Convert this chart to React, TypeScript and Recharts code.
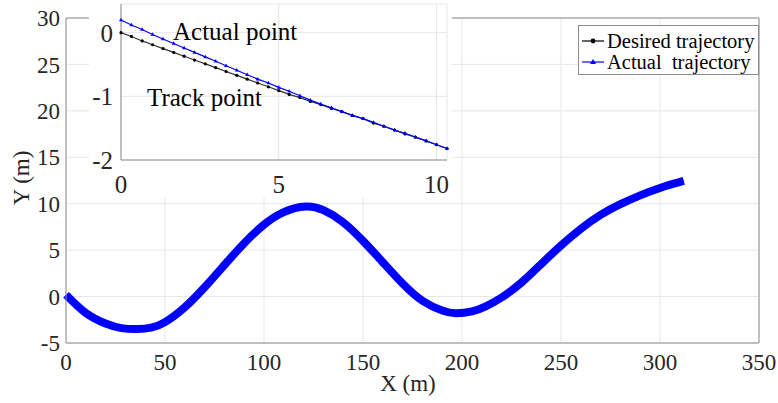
import { ComposedChart, Line, XAxis, YAxis, CartesianGrid, ReferenceLine } from 'recharts'

const FONT = 'Liberation Serif'
const AXIS = '#8c8c8c'
const GRID = '#e6e6e6'
const TEXT = '#262626'
const BLUE = '#0000ff'

// full path, X (m) vs Y (m)
const pathX = [
  0, 10, 20, 28, 36, 43, 50, 60, 70, 80, 90, 100, 110, 121, 130, 140, 150, 160, 170, 180, 190, 197,
  205, 212, 220, 230, 240, 250, 260, 270, 280, 290, 300, 312,
]
const pathDesired = [
  0, -1.76, -2.9, -3.4, -3.5, -3.35, -2.75, -1.15, 1.0, 3.4, 5.75, 7.75, 9.1, 9.7, 9.3, 8.0, 6.0,
  3.7, 1.4, -0.45, -1.5, -1.8, -1.6, -1.05, -0.1, 1.5, 3.5, 5.5, 7.3, 8.8, 9.95, 10.9, 11.7, 12.45,
]
const pathActual = [
  0.2, -1.76, -2.9, -3.4, -3.5, -3.35, -2.75, -1.15, 1.0, 3.4, 5.75, 7.75, 9.1, 9.7, 9.3, 8.0, 6.0,
  3.7, 1.4, -0.45, -1.5, -1.8, -1.6, -1.05, -0.1, 1.5, 3.5, 5.5, 7.3, 8.8, 9.95, 10.9, 11.7, 12.45,
]

// zoomed start section
const zoomX = [
  0, 0.33, 0.67, 1, 1.33, 1.67, 2, 2.33, 2.67, 3, 3.33, 3.67, 4, 4.33, 4.67, 5, 5.33, 5.67, 6, 6.33,
  6.67, 7, 7.33, 7.67, 8, 8.33, 8.67, 9, 9.33, 9.67, 10, 10.33,
]
const zoomDesired = [
  0, -0.06, -0.13, -0.19, -0.25, -0.31, -0.37, -0.43, -0.49, -0.55, -0.61, -0.67, -0.73, -0.79,
  -0.85, -0.91, -0.97, -1.02, -1.08, -1.13, -1.19, -1.24, -1.3, -1.35, -1.42, -1.47, -1.53, -1.59,
  -1.64, -1.7, -1.76, -1.82,
]
const zoomActual = [
  0.2, 0.12, 0.05, -0.03, -0.1, -0.17, -0.24, -0.31, -0.38, -0.45, -0.52, -0.59, -0.66, -0.73,
  -0.79, -0.86, -0.92, -0.99, -1.06, -1.12, -1.18, -1.24, -1.3, -1.35, -1.41, -1.47, -1.53, -1.58,
  -1.64, -1.7, -1.76, -1.82,
]

const pathXTicks = [0, 50, 100, 150, 200, 250, 300, 350]
const pathYTicks = [-5, 0, 5, 10, 15, 20, 25, 30]
const zoomXTicks = [0, 5, 10]
const zoomYTicks = [-2, -1, 0]

const pathData = pathX.map((x, i) => ({ x, desired: pathDesired[i], actual: pathActual[i] }))
const zoomData = zoomX.map((x, i) => ({ x, desired: zoomDesired[i], actual: zoomActual[i] }))

const CircleDot = ({ cx, cy }: any) => <circle cx={cx} cy={cy} r={1.6} fill="#000" />

const TriDot = ({ cx, cy }: any) => (
  <path d={`M${cx},${cy - 2.2}L${cx + 2},${cy + 1.3}L${cx - 2},${cy + 1.3}Z`} fill={BLUE} />
)

const legendItems = [
  { name: 'Desired trajectory', color: '#000', top: 4 },
  { name: 'Actual  trajectory', color: BLUE, top: 25 },
]

const LegendBox = () => (
  <div
    style={{
      position: 'absolute',
      left: 578,
      top: 25,
      width: 181,
      height: 50,
      boxSizing: 'border-box',
      border: `1px solid ${AXIS}`,
      background: '#fff',
      fontFamily: FONT,
      fontSize: 20.5,
      color: '#000',
    }}
  >
    {legendItems.map((it, i) => (
      <div
        key={it.name}
        style={{ position: 'absolute', left: 2, top: it.top, height: 22, display: 'flex', alignItems: 'center' }}
      >
        <svg width={24} height={22}>
          <line x1={1} y1={11} x2={23} y2={11} stroke={it.color} strokeWidth={1.2} />
          {i === 0 ? (
            <circle cx={12} cy={11} r={2.4} fill="#000" />
          ) : (
            <path d="M12,8 L15,13 L9,13 Z" fill={BLUE} />
          )}
        </svg>
        <span style={{ whiteSpace: 'pre', marginLeft: 2, lineHeight: '22px' }}>{it.name}</span>
      </div>
    ))}
  </div>
)

export default function App() {
  return (
    <div style={{ position: 'absolute', left: 0, top: 0, width: 778, height: 403, background: '#fff' }}>
      <ComposedChart
        width={778}
        height={403}
        data={pathData}
        margin={{ top: 18, right: 19, left: 0, bottom: 0 }}
      >
        <CartesianGrid stroke={GRID} />
        <XAxis
          type="number"
          dataKey="x"
          domain={[0, 350]}
          ticks={pathXTicks}
          height={60}
          stroke={AXIS}
          tickLine={false}
          tickSize={0}
          tickMargin={11}
          tick={{ fontSize: 23, fill: TEXT, fontFamily: FONT }}
        />
        <YAxis
          type="number"
          domain={[-5, 30]}
          ticks={pathYTicks}
          width={66}
          stroke={AXIS}
          tickLine={false}
          tickSize={0}
          tickMargin={6}
          tick={{ fontSize: 23, fill: TEXT, fontFamily: FONT }}
        />
        <ReferenceLine y={30} stroke={AXIS} />
        <ReferenceLine x={350} stroke={AXIS} />
        <Line
          type="natural"
          dataKey="desired"
          stroke="#000"
          strokeWidth={1}
          dot={false}
          isAnimationActive={false}
        />
        <Line
          type="natural"
          dataKey="actual"
          stroke={BLUE}
          strokeWidth={8}
          dot={false}
          isAnimationActive={false}
        />
      </ComposedChart>

      <LegendBox />

      {/* zoomed view of the start section */}
      <div style={{ position: 'absolute', left: 89, top: 0, width: 363, height: 198, background: '#fff' }}>
        <ComposedChart
          width={363}
          height={198}
          data={zoomData}
          margin={{ top: 4, right: 5, left: 0, bottom: 0 }}
        >
          <CartesianGrid stroke={GRID} />
          <XAxis
            type="number"
            dataKey="x"
            domain={[0, 10.33]}
            ticks={zoomXTicks}
            height={38}
            stroke={AXIS}
            tickLine={false}
            tickSize={0}
            tickMargin={15}
            tick={{ fontSize: 25, fill: TEXT, fontFamily: FONT }}
          />
          <YAxis
            type="number"
            domain={[-2, 0.45]}
            ticks={zoomYTicks}
            width={32}
            stroke={AXIS}
            tickLine={false}
            tickSize={0}
            tickMargin={8}
            tick={{ fontSize: 25, fill: TEXT, fontFamily: FONT }}
          />
          <Line
            type="linear"
            dataKey="desired"
            stroke="#333"
            strokeWidth={1.2}
            dot={<CircleDot />}
            isAnimationActive={false}
          />
          <Line
            type="linear"
            dataKey="actual"
            stroke={BLUE}
            strokeWidth={1.2}
            dot={<TriDot />}
            isAnimationActive={false}
          />
        </ComposedChart>
        <div style={{ position: 'absolute', left: 84, top: 19, fontFamily: FONT, fontSize: 25, lineHeight: '25px', color: '#000', whiteSpace: 'nowrap' }}>
          Actual point
        </div>
        <div style={{ position: 'absolute', left: 58, top: 85, fontFamily: FONT, fontSize: 25, lineHeight: '25px', color: '#000', whiteSpace: 'nowrap' }}>
          Track point
        </div>
      </div>

      <div
        style={{
          position: 'absolute',
          left: 22,
          top: 178,
          transform: 'translate(-50%, -50%) rotate(-90deg)',
          fontFamily: FONT,
          fontSize: 23,
          color: TEXT,
          whiteSpace: 'nowrap',
        }}
      >
        Y (m)
      </div>
      <div
        style={{
          position: 'absolute',
          left: 408,
          top: 384,
          transform: 'translate(-50%, -50%)',
          fontFamily: FONT,
          fontSize: 23,
          color: TEXT,
          whiteSpace: 'nowrap',
        }}
      >
        X (m)
      </div>
    </div>
  )
}
